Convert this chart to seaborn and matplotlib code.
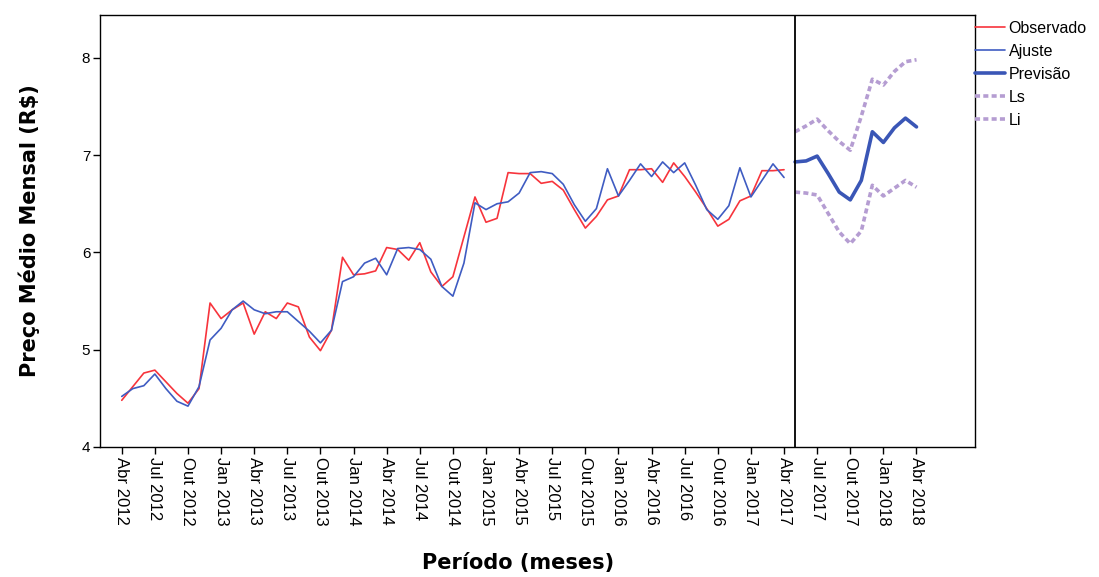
import numpy as np
import pandas as pd
import matplotlib
matplotlib.use("Agg")
import matplotlib.pyplot as plt
import seaborn as sns

# monthly index 0 = Abr 2012 ... 72 = Abr 2018
observado = [4.48, 4.62, 4.76, 4.79, 4.67, 4.55, 4.45, 4.60, 5.48, 5.32,
             5.41, 5.48, 5.16, 5.39, 5.32, 5.48, 5.44, 5.13, 4.99, 5.20,
             5.95, 5.77, 5.78, 5.81, 6.05, 6.03, 5.92, 6.10, 5.80, 5.65,
             5.75, 6.16, 6.57, 6.31, 6.35, 6.82, 6.81, 6.81, 6.71, 6.73,
             6.64, 6.44, 6.25, 6.37, 6.54, 6.58, 6.85, 6.85, 6.86, 6.72,
             6.92, 6.78, 6.62, 6.45, 6.27, 6.34, 6.53, 6.58, 6.84, 6.84,
             6.85]
ajuste = [4.52, 4.60, 4.63, 4.75, 4.60, 4.47, 4.42, 4.62, 5.10, 5.22,
          5.41, 5.50, 5.41, 5.37, 5.39, 5.39, 5.29, 5.19, 5.07, 5.20,
          5.70, 5.75, 5.89, 5.94, 5.77, 6.04, 6.05, 6.03, 5.93, 5.65,
          5.55, 5.89, 6.51, 6.44, 6.50, 6.52, 6.61, 6.82, 6.83, 6.81,
          6.70, 6.49, 6.32, 6.45, 6.86, 6.58, 6.74, 6.91, 6.78, 6.93,
          6.82, 6.92, 6.69, 6.44, 6.34, 6.48, 6.87, 6.57, 6.74, 6.91,
          6.77]
previsao = [6.93, 6.94, 6.99, 6.81, 6.62, 6.54, 6.74, 7.24, 7.13, 7.28, 7.38, 7.29]
ls = [7.24, 7.30, 7.37, 7.25, 7.14, 7.05, 7.40, 7.78, 7.72, 7.86, 7.96, 7.98]
li = [6.62, 6.61, 6.59, 6.40, 6.21, 6.09, 6.22, 6.69, 6.58, 6.66, 6.74, 6.67]

meses = ["Jan", "Abr", "Jul", "Out"]
tick_labels = []
for k in range(25):
    m = 3 + 3 * k  # months since Jan 2012
    tick_labels.append(f"{meses[(m // 3) % 4]} {2012 + m // 12}")
tick_pos = list(range(0, 73, 3))

inicio_previsao = len(observado)

sns.set_style("white")
plt.rcParams["font.family"] = ["Liberation Sans", "DejaVu Sans"]
plt.rcParams["text.color"] = "black"
plt.rcParams["axes.labelcolor"] = "black"
plt.rcParams["xtick.color"] = "black"
plt.rcParams["ytick.color"] = "black"

fig = plt.figure(figsize=(10.99, 5.77), dpi=100)
ax = fig.add_axes([100 / 1099, 130 / 577, 875 / 1099, 432 / 577])

t_obs = np.arange(len(observado))
t_prev = np.arange(inicio_previsao, inicio_previsao + len(previsao))

pontilhado = (0, (1.4, 0.9))
sns.lineplot(x=t_obs, y=observado, ax=ax, color="#f7343c", lw=1.2, label="Observado")
sns.lineplot(x=t_obs, y=ajuste, ax=ax, color="#3f5cc2", lw=1.2, label="Ajuste")
sns.lineplot(x=t_prev, y=previsao, ax=ax, color="#3a56b6", lw=2.6, label="Previsão")
sns.lineplot(x=t_prev, y=ls, ax=ax, color="#b59dd2", lw=2.6, label="Ls", linestyle=pontilhado)
sns.lineplot(x=t_prev, y=li, ax=ax, color="#b59dd2", lw=2.6, label="Li", linestyle=pontilhado)

ax.axvline(inicio_previsao, color="black", lw=1.3)

ax.set_xlim(-1.97, 77.3)
ax.set_ylim(4, 8.44)
ax.set_xticks(tick_pos)
ax.set_xticklabels(tick_labels, rotation=270, fontsize=12)
ax.set_yticks([4, 5, 6, 7, 8])
ax.set_yticklabels(["4", "5", "6", "7", "8"], fontsize=11)
ax.tick_params(axis="both", direction="out", length=5, width=1, color="black",
               labelcolor="black", bottom=True, left=True, pad=2)

for s in ax.spines.values():
    s.set_color("black")
    s.set_linewidth(1)

ax.set_ylabel("Preço Médio Mensal (R$)", fontsize=15, fontweight="bold",
              family="DejaVu Sans", labelpad=30, color="black")
ax.set_xlabel("Período (meses)", fontsize=15, fontweight="bold",
              family="DejaVu Sans", color="black")
ax.xaxis.set_label_coords(0.478, -0.245)

leg = ax.legend(loc="upper left", bbox_to_anchor=(1.0, 0.986), frameon=False,
                fontsize=11.5, handlelength=1.9, handletextpad=0.2,
                labelspacing=0.5, borderaxespad=0.0, borderpad=0.0)
for txt in leg.get_texts():
    txt.set_color("black")

fig.savefig("out.png", dpi=100)
